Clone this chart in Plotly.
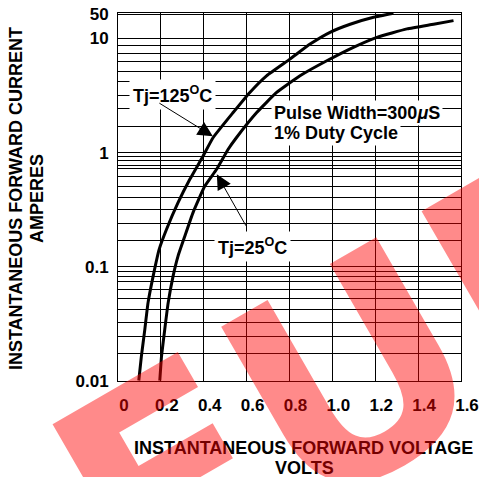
import plotly.graph_objects as go

# ---- data ----
v_125 = [0.097, 0.109, 0.125, 0.140, 0.164, 0.192, 0.226, 0.280, 0.335, 0.397,
         0.444, 0.537, 0.615, 0.693, 0.802, 0.896, 0.989, 1.083, 1.192, 1.285]
i_125 = [0.0101, 0.0164, 0.0282, 0.0483, 0.0828, 0.142, 0.212, 0.364, 0.583, 0.934,
         1.354, 2.24, 3.36, 4.70, 6.58, 8.91, 11.3, 13.3, 15.3, 16.6]

v_25 = [0.195, 0.203, 0.218, 0.234, 0.257, 0.280, 0.312, 0.350, 0.405, 0.460,
        0.514, 0.553, 0.647, 0.740, 0.849, 0.974, 1.098, 1.208, 1.348, 1.472, 1.565]
i_25 = [0.0101, 0.0164, 0.0282, 0.0483, 0.0828, 0.124, 0.186, 0.298, 0.509, 0.714,
        1.07, 1.355, 2.24, 3.36, 4.70, 6.36, 8.34, 10.2, 12.1, 13.3, 14.3]

x_ticks = [0, 0.2, 0.4, 0.6, 0.8, 1.0, 1.2, 1.4, 1.6]
x_tick_labels = ["0", "0.2", "0.4", "0.6", "0.8", "1.0", "1.2", "1.4", "1.6"]

y_major = [0.01, 0.1, 1, 10, 16.2]
y_major_labels = ["0.01", "0.1", "1", "10", "50"]
y_grid_minor = [0.0173, 0.0243, 0.0323, 0.0422, 0.0527, 0.0632, 0.0739, 0.0827, 0.0915,
                0.170, 0.240, 0.318, 0.408, 0.503, 0.623, 0.728, 0.778, 0.844, 0.922,
                1.68, 2.45, 3.18, 4.16, 5.13, 6.28, 7.38, 8.61]

FONT = "Liberation Sans, Arial, Helvetica, sans-serif"

y_tickvals = y_major + y_grid_minor
y_ticktext = y_major_labels + [""] * len(y_grid_minor)

fig = go.Figure()
for vx, iy in ((v_125, i_125), (v_25, i_25)):
    fig.add_trace(go.Scatter(x=vx, y=iy, mode="lines",
                             line=dict(color="black", width=3, shape="spline", smoothing=0.4),
                             hoverinfo="skip", showlegend=False))

lab_font = dict(family=FONT, size=18, color="black", weight="bold")

annotations = [
    # curve labels
    dict(x=0.253, y=0.509, xref="x", yref="y", text="Tj=125<sup>O</sup>C", showarrow=False,
         font=lab_font, bgcolor="white", borderpad=3),
    dict(x=0.626, y=-0.825, xref="x", yref="y", text="Tj=25<sup>O</sup>C", showarrow=False,
         font=lab_font, bgcolor="white", borderpad=3),
    dict(x=0.712, y=0.350, xref="x", yref="y", text="Pulse Width=300<i>μ</i>S", showarrow=False,
         xanchor="left", font=lab_font, bgcolor="white", borderpad=2),
    dict(x=0.712, y=0.175, xref="x", yref="y", text="1% Duty Cycle", showarrow=False,
         xanchor="left", font=lab_font, bgcolor="white", borderpad=2),
    # arrows
    dict(x=0.4425, y=0.143, xref="x", yref="y", text="", showarrow=True,
         ax=-55, ay=-34, arrowhead=2, arrowsize=3, arrowwidth=1, arrowcolor="black", standoff=0),
    dict(x=0.461, y=-0.190, xref="x", yref="y", text="", showarrow=True,
         ax=30, ay=53, arrowhead=2, arrowsize=3, arrowwidth=1, arrowcolor="black", standoff=0),
    # axis titles
    dict(x=0.542, y=-0.182, xref="paper", yref="paper",
         text="INSTANTANEOUS FORWARD VOLTAGE", showarrow=False,
         font=lab_font, xanchor="center", yanchor="middle"),
    dict(x=0.545, y=-0.237, xref="paper", yref="paper",
         text="VOLTS", showarrow=False,
         font=lab_font, xanchor="center", yanchor="middle"),
    dict(x=-0.297, y=0.4946, xref="paper", yref="paper",
         text="INSTANTANEOUS FORWARD CURRENT", showarrow=False, textangle=-90,
         font=lab_font, xanchor="center", yanchor="middle"),
    dict(x=-0.236, y=0.4946, xref="paper", yref="paper",
         text="AMPERES", showarrow=False, textangle=-90,
         font=lab_font, xanchor="center", yanchor="middle"),
    # watermark
    dict(x=0.717, y=0.030, xref="paper", yref="paper", text="EUR", showarrow=False,
         textangle=-30, xanchor="center", yanchor="middle",
         font=dict(family="DejaVu Sans", size=285, color="rgba(255,0,0,0.46)", weight="bold")),
]

tick_font = dict(family=FONT, size=17, color="black", weight="bold")

# page body has an 8px margin: shrink figure so the plot lands where the reference has it
fig.update_layout(
    width=479, height=469,
    margin=dict(l=110, r=26, t=5, b=96),
    paper_bgcolor="white", plot_bgcolor="white",
    showlegend=False,
    annotations=annotations,
    xaxis=dict(range=[0, 1.6], tickvals=x_ticks, ticktext=x_tick_labels,
               showgrid=True, gridcolor="black", gridwidth=1,
               showline=True, linecolor="black", linewidth=1, mirror=True,
               ticks="", zeroline=False, ticklabelstandoff=9, ticklabelshift=6,
               ticklabeloverflow="allow", automargin=False, tickfont=tick_font),
    yaxis=dict(type="log", range=[-2, 1.222], tickvals=y_tickvals, ticktext=y_ticktext,
               showgrid=True, gridcolor="black", gridwidth=1,
               showline=True, linecolor="black", linewidth=1, mirror=True,
               ticks="", zeroline=False, ticklabelstandoff=5,
               ticklabeloverflow="allow", automargin=False, tickfont=tick_font),
)

fig.write_html("out.html")
